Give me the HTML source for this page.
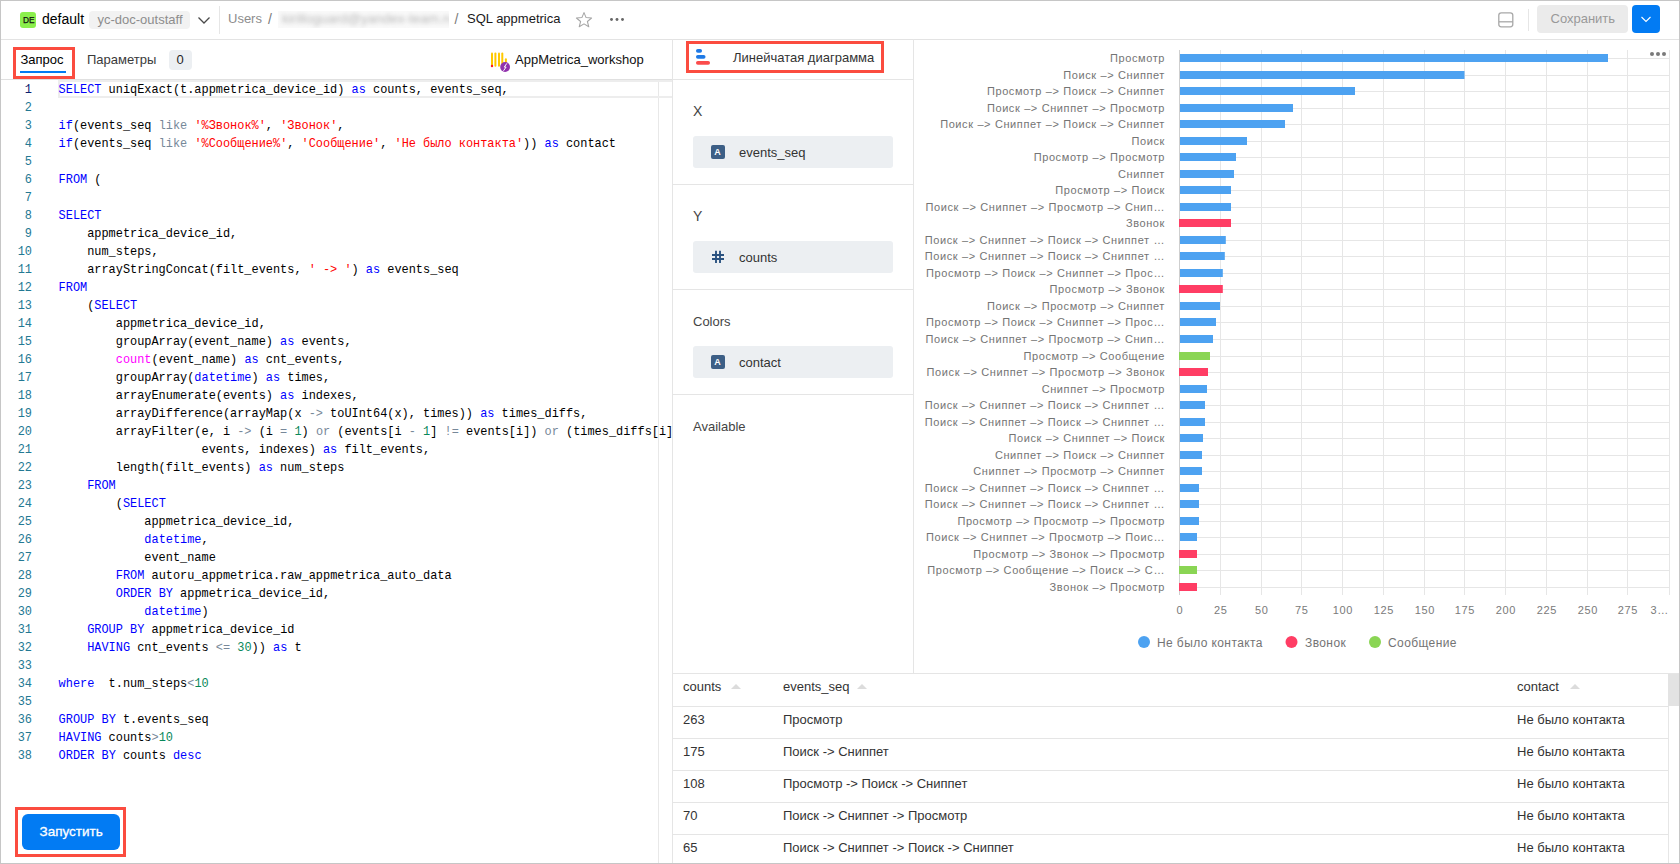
<!DOCTYPE html>
<html><head><meta charset="utf-8"><style>
*{box-sizing:border-box;margin:0;padding:0}
html,body{width:1680px;height:864px;overflow:hidden;background:#fff}
body{position:relative;font-family:"Liberation Sans",sans-serif;color:#000}
.a{position:absolute}
.t{position:absolute;white-space:pre;line-height:20px;height:20px}
.hl{position:absolute;height:1px;background:#e5e5e5}
.vl{position:absolute;width:1px;background:#e5e5e5}
.rb{position:absolute;border:3px solid #fb4c3f}
/* code */
.code{position:absolute;left:0;top:0;font-family:"Liberation Mono",monospace;font-size:11.92px}
.ln{position:absolute;width:32px;text-align:right;left:0;color:#237893;white-space:pre;line-height:18px;height:18px}
.cl{position:absolute;left:58.6px;white-space:pre;line-height:18px;height:18px;color:#000}
.cl2{font-size:11px;fill:#747474;letter-spacing:0.6px;word-spacing:0.1px}
.ax{font-size:11px;fill:#7a7a7a;letter-spacing:0.6px}
.lg{font-size:12px;fill:#747474;letter-spacing:0.4px;word-spacing:0px}
.k{color:#0000ff}.s{color:#ff0000}.o{color:#778899}.n{color:#09885a}.p{color:#ff00ff}
</style></head><body>
<!-- page border -->
<div class="a" style="left:0;top:0;width:1680px;height:864px;border:1px solid #c6c6c6;z-index:50;pointer-events:none"></div>

<!-- HEADER -->
<div class="hl" style="left:1px;top:39px;width:1678px;background:#e3e3e3"></div>
<div class="a" style="left:20px;top:12px;width:16px;height:16px;border-radius:3px;background:#8bef4c"></div>
<div class="t" style="left:23px;top:10px;font-size:8.3px;letter-spacing:0.1px;color:#111;-webkit-text-stroke:0.25px #111">DE</div>
<div class="t" style="left:42px;top:9px;font-size:14px;color:#000">default</div>
<div class="a" style="left:89px;top:11px;width:101px;height:18px;border-radius:4px;background:#f2f2f2"></div>
<div class="t" style="left:97.5px;top:9.5px;font-size:13px;color:#8d8d8d">yc-doc-outstaff</div>
<svg class="a" style="left:197px;top:15px" width="14" height="10"><path d="M1.5 2.5 L7 8 L12.5 2.5" fill="none" stroke="#4a4a4a" stroke-width="1.3"/></svg>
<div class="vl" style="left:219px;top:6px;height:28px;background:#e6e6e6"></div>
<div class="t" style="left:228px;top:9px;font-size:13px;color:#8d8d8d">Users</div>
<div class="t" style="left:268px;top:9px;font-size:14px;color:#7a7a7a">/</div>
<div class="a" style="left:278px;top:11px;width:171px;height:17px;background:#f9f9f9;overflow:hidden"><div class="t" style="left:4px;top:-2px;font-size:13.5px;color:#b8b8b8;filter:blur(2.2px)">kirilloguard@yandex-team.ru</div></div>
<div class="t" style="left:454.5px;top:9px;font-size:14px;color:#7a7a7a">/</div>
<div class="t" style="left:467px;top:9px;font-size:13px;color:#1a1a1a">SQL appmetrica</div>
<svg class="a" style="left:575px;top:11px" width="19" height="17"><path d="M9 1.6 L11.1 6.6 L16.6 7 L12.4 10.5 L13.8 15.8 L9 12.9 L4.2 15.8 L5.6 10.5 L1.4 7 L6.9 6.6 Z" fill="none" stroke="#a6a6a6" stroke-width="1.05" stroke-linejoin="round"/></svg>
<svg class="a" style="left:608px;top:16px" width="18" height="7"><circle cx="3.5" cy="3.5" r="1.45" fill="#666"/><circle cx="9" cy="3.5" r="1.45" fill="#666"/><circle cx="14.5" cy="3.5" r="1.45" fill="#666"/></svg>

<svg class="a" style="left:1497px;top:11px" width="18" height="18"><rect x="1.8" y="1.8" width="14" height="14" rx="2.5" fill="none" stroke="#a8a8a8" stroke-width="1.3"/><line x1="2" y1="10.8" x2="16" y2="10.8" stroke="#a8a8a8" stroke-width="1.3"/></svg>
<div class="vl" style="left:1528px;top:9px;height:22px;background:#e6e6e6"></div>
<div class="a" style="left:1537px;top:5px;width:91px;height:28px;border-radius:4px;background:#ebebeb"></div>
<div class="t" style="left:1550.5px;top:8.5px;font-size:13px;color:#999">Сохранить</div>
<div class="a" style="left:1632px;top:5px;width:28px;height:28px;border-radius:4px;background:#027bf3"></div>
<svg class="a" style="left:1640px;top:14px" width="12" height="10"><path d="M1.5 3 L6 7.5 L10.5 3" fill="none" stroke="#fff" stroke-width="1.1"/></svg>

<!-- LEFT PANEL -->
<div class="t" style="left:20.5px;top:50px;font-size:13px;color:#000">Запрос</div>
<div class="a" style="left:20px;top:71px;width:46px;height:2px;background:#027bf3"></div>
<div class="rb" style="left:13px;top:47px;width:62px;height:32px"></div>
<div class="t" style="left:87px;top:50px;font-size:13px;color:#3a3a3a">Параметры</div>
<div class="a" style="left:169px;top:50px;width:23px;height:20px;border-radius:4px;background:#eceff2"></div>
<div class="t" style="left:176.5px;top:50px;font-size:13px;color:#262626">0</div>
<svg class="a" style="left:489px;top:51px" width="24" height="22">
<rect x="2" y="1.5" width="2" height="14.3" rx="1" fill="#ffc800"/><rect x="5.4" y="1.5" width="2" height="14.3" rx="1" fill="#ffc800"/><rect x="9" y="1.5" width="2" height="14.3" rx="1" fill="#ffc800"/><rect x="12.3" y="1.5" width="2" height="14.3" rx="1" fill="#ffc800"/><rect x="15.9" y="7.2" width="2" height="5" rx="1" fill="#ffc800"/>
<circle cx="3" cy="15" r="1.2" fill="#ff1a1a"/>
<circle cx="16.1" cy="16" r="4.9" fill="#9132ad"/><path d="M17.8 12.4 L15.3 16.1 L17.1 16 L14.5 19.8" fill="none" stroke="#fff" stroke-width="1"/>
</svg>
<div class="t" style="left:515px;top:50px;font-size:13px;color:#111">AppMetrica_workshop</div>

<div class="hl" style="left:1px;top:79px;width:671px;background:#e0e0e0"></div>
<div class="vl" style="left:672px;top:39px;height:825px"></div>
<div class="vl" style="left:658px;top:80px;height:784px;background:#e8e8e8"></div>
<div class="a" style="left:58px;top:80px;width:614px;height:18px;border:2px solid #ededed;border-right:none"></div>

<div id="code"><div class="code">
<div class="ln" style="top:81.0px;color:#0b216f">1</div><div class="cl" style="top:81.0px"><span class="k">SELECT</span> uniqExact(t.appmetrica_device_id) <span class="k">as</span> counts, events_seq,</div>
<div class="ln" style="top:99.0px;color:#237893">2</div><div class="cl" style="top:99.0px"></div>
<div class="ln" style="top:117.0px;color:#237893">3</div><div class="cl" style="top:117.0px"><span class="k">if</span>(events_seq <span class="o">like</span> <span class="s">'%Звонок%'</span>, <span class="s">'Звонок'</span>,</div>
<div class="ln" style="top:135.0px;color:#237893">4</div><div class="cl" style="top:135.0px"><span class="k">if</span>(events_seq <span class="o">like</span> <span class="s">'%Сообщение%'</span>, <span class="s">'Сообщение'</span>, <span class="s">'Не было контакта'</span>)) <span class="k">as</span> contact</div>
<div class="ln" style="top:153.0px;color:#237893">5</div><div class="cl" style="top:153.0px"></div>
<div class="ln" style="top:171.0px;color:#237893">6</div><div class="cl" style="top:171.0px"><span class="k">FROM</span> (</div>
<div class="ln" style="top:189.0px;color:#237893">7</div><div class="cl" style="top:189.0px"></div>
<div class="ln" style="top:207.0px;color:#237893">8</div><div class="cl" style="top:207.0px"><span class="k">SELECT</span></div>
<div class="ln" style="top:225.0px;color:#237893">9</div><div class="cl" style="top:225.0px">    appmetrica_device_id,</div>
<div class="ln" style="top:243.0px;color:#237893">10</div><div class="cl" style="top:243.0px">    num_steps,</div>
<div class="ln" style="top:261.0px;color:#237893">11</div><div class="cl" style="top:261.0px">    arrayStringConcat(filt_events, <span class="s">' -&gt; '</span>) <span class="k">as</span> events_seq</div>
<div class="ln" style="top:279.0px;color:#237893">12</div><div class="cl" style="top:279.0px"><span class="k">FROM</span></div>
<div class="ln" style="top:297.0px;color:#237893">13</div><div class="cl" style="top:297.0px">    (<span class="k">SELECT</span></div>
<div class="ln" style="top:315.0px;color:#237893">14</div><div class="cl" style="top:315.0px">        appmetrica_device_id,</div>
<div class="ln" style="top:333.0px;color:#237893">15</div><div class="cl" style="top:333.0px">        groupArray(event_name) <span class="k">as</span> events,</div>
<div class="ln" style="top:351.0px;color:#237893">16</div><div class="cl" style="top:351.0px">        <span class="p">count</span>(event_name) <span class="k">as</span> cnt_events,</div>
<div class="ln" style="top:369.0px;color:#237893">17</div><div class="cl" style="top:369.0px">        groupArray(<span class="k">datetime</span>) <span class="k">as</span> times,</div>
<div class="ln" style="top:387.0px;color:#237893">18</div><div class="cl" style="top:387.0px">        arrayEnumerate(events) <span class="k">as</span> indexes,</div>
<div class="ln" style="top:405.0px;color:#237893">19</div><div class="cl" style="top:405.0px">        arrayDifference(arrayMap(x <span class="o">-&gt;</span> toUInt64(x), times)) <span class="k">as</span> times_diffs,</div>
<div class="ln" style="top:423.0px;color:#237893">20</div><div class="cl" style="top:423.0px">        arrayFilter(e, i <span class="o">-&gt;</span> (i <span class="o">=</span> <span class="n">1</span>) <span class="o">or</span> (events[i <span class="o">-</span> <span class="n">1</span>] <span class="o">!=</span> events[i]) <span class="o">or</span> (times_diffs[i]</div>
<div class="ln" style="top:441.0px;color:#237893">21</div><div class="cl" style="top:441.0px">                    events, indexes) <span class="k">as</span> filt_events,</div>
<div class="ln" style="top:459.0px;color:#237893">22</div><div class="cl" style="top:459.0px">        length(filt_events) <span class="k">as</span> num_steps</div>
<div class="ln" style="top:477.0px;color:#237893">23</div><div class="cl" style="top:477.0px">    <span class="k">FROM</span></div>
<div class="ln" style="top:495.0px;color:#237893">24</div><div class="cl" style="top:495.0px">        (<span class="k">SELECT</span></div>
<div class="ln" style="top:513.0px;color:#237893">25</div><div class="cl" style="top:513.0px">            appmetrica_device_id,</div>
<div class="ln" style="top:531.0px;color:#237893">26</div><div class="cl" style="top:531.0px">            <span class="k">datetime</span>,</div>
<div class="ln" style="top:549.0px;color:#237893">27</div><div class="cl" style="top:549.0px">            event_name</div>
<div class="ln" style="top:567.0px;color:#237893">28</div><div class="cl" style="top:567.0px">        <span class="k">FROM</span> autoru_appmetrica.raw_appmetrica_auto_data</div>
<div class="ln" style="top:585.0px;color:#237893">29</div><div class="cl" style="top:585.0px">        <span class="k">ORDER</span> <span class="k">BY</span> appmetrica_device_id,</div>
<div class="ln" style="top:603.0px;color:#237893">30</div><div class="cl" style="top:603.0px">            <span class="k">datetime</span>)</div>
<div class="ln" style="top:621.0px;color:#237893">31</div><div class="cl" style="top:621.0px">    <span class="k">GROUP</span> <span class="k">BY</span> appmetrica_device_id</div>
<div class="ln" style="top:639.0px;color:#237893">32</div><div class="cl" style="top:639.0px">    <span class="k">HAVING</span> cnt_events <span class="o">&lt;=</span> <span class="n">30</span>)) <span class="k">as</span> t</div>
<div class="ln" style="top:657.0px;color:#237893">33</div><div class="cl" style="top:657.0px"></div>
<div class="ln" style="top:675.0px;color:#237893">34</div><div class="cl" style="top:675.0px"><span class="k">where</span>  t.num_steps<span class="o">&lt;</span><span class="n">10</span></div>
<div class="ln" style="top:693.0px;color:#237893">35</div><div class="cl" style="top:693.0px"></div>
<div class="ln" style="top:711.0px;color:#237893">36</div><div class="cl" style="top:711.0px"><span class="k">GROUP</span> <span class="k">BY</span> t.events_seq</div>
<div class="ln" style="top:729.0px;color:#237893">37</div><div class="cl" style="top:729.0px"><span class="k">HAVING</span> counts<span class="o">&gt;</span><span class="n">10</span></div>
<div class="ln" style="top:747.0px;color:#237893">38</div><div class="cl" style="top:747.0px"><span class="k">ORDER</span> <span class="k">BY</span> counts <span class="k">desc</span></div>
</div></div><!--/code-->

<!-- MIDDLE PANEL -->
<div class="hl" style="left:673px;top:79px;width:240px"></div>
<div class="vl" style="left:913px;top:39px;height:634px"></div>
<div class="rb" style="left:686px;top:41px;width:198px;height:32px"></div>
<svg class="a" style="left:694px;top:47px" width="20" height="20">
<rect x="2" y="2" width="6" height="3.7" rx="1.8" fill="#1f7ae6"/>
<rect x="2" y="8" width="9.5" height="3.7" rx="1.8" fill="#1f7ae6"/>
<rect x="2" y="14" width="14" height="3.7" rx="1.8" fill="#fb4c4c"/>
</svg>
<div class="t" style="left:733px;top:48px;font-size:13px;color:#333">Линейчатая диаграмма</div>

<div class="hl" style="left:673px;top:184px;width:240px"></div>
<div class="hl" style="left:673px;top:289px;width:240px"></div>
<div class="hl" style="left:673px;top:394px;width:240px"></div>
<div class="t" style="left:693px;top:101px;font-size:14px;color:#444">X</div>
<div class="t" style="left:693px;top:206px;font-size:14px;color:#444">Y</div>
<div class="t" style="left:693px;top:312px;font-size:13px;color:#444">Colors</div>
<div class="t" style="left:693px;top:416.5px;font-size:13px;color:#444">Available</div>
<div class="a" style="left:693px;top:136px;width:200px;height:32px;border-radius:3px;background:#eceff2"></div>
<div class="a" style="left:693px;top:241px;width:200px;height:32px;border-radius:3px;background:#eceff2"></div>
<div class="a" style="left:693px;top:346px;width:200px;height:32px;border-radius:3px;background:#eceff2"></div>
<div class="a" style="left:711px;top:145px;width:14px;height:14px;border-radius:2px;background:#3d5f86"></div>
<div class="t" style="left:714.2px;top:141.5px;font-size:9px;font-weight:bold;color:#fff">A</div>
<div class="a" style="left:711px;top:355px;width:14px;height:14px;border-radius:2px;background:#3d5f86"></div>
<div class="t" style="left:714.2px;top:351.5px;font-size:9px;font-weight:bold;color:#fff">A</div>
<svg class="a" style="left:710px;top:249px" width="16" height="16"><path d="M6 1.8 L6 14 M10 1.8 L10 14 M2 6 L14 6 M2 10 L14 10" stroke="#2a5280" stroke-width="1.9" fill="none"/></svg>
<div class="t" style="left:739px;top:143px;font-size:13px;color:#333">events_seq</div>
<div class="t" style="left:739px;top:248px;font-size:13px;color:#333">counts</div>
<div class="t" style="left:739px;top:353px;font-size:13px;color:#333">contact</div>

<!-- CHART -->
<!--chart--><svg class="a" style="left:913px;top:39px" width="766" height="634" viewBox="913 39 766 634">
<line x1="1179.5" y1="50" x2="1179.5" y2="595" stroke="#e6e6e6" stroke-width="1"/>
<line x1="1220.5" y1="50" x2="1220.5" y2="595" stroke="#e6e6e6" stroke-width="1"/>
<line x1="1261.5" y1="50" x2="1261.5" y2="595" stroke="#e6e6e6" stroke-width="1"/>
<line x1="1301.5" y1="50" x2="1301.5" y2="595" stroke="#e6e6e6" stroke-width="1"/>
<line x1="1342.5" y1="50" x2="1342.5" y2="595" stroke="#e6e6e6" stroke-width="1"/>
<line x1="1383.5" y1="50" x2="1383.5" y2="595" stroke="#e6e6e6" stroke-width="1"/>
<line x1="1424.5" y1="50" x2="1424.5" y2="595" stroke="#e6e6e6" stroke-width="1"/>
<line x1="1464.5" y1="50" x2="1464.5" y2="595" stroke="#e6e6e6" stroke-width="1"/>
<line x1="1505.5" y1="50" x2="1505.5" y2="595" stroke="#e6e6e6" stroke-width="1"/>
<line x1="1546.5" y1="50" x2="1546.5" y2="595" stroke="#e6e6e6" stroke-width="1"/>
<line x1="1587.5" y1="50" x2="1587.5" y2="595" stroke="#e6e6e6" stroke-width="1"/>
<line x1="1627.5" y1="50" x2="1627.5" y2="595" stroke="#e6e6e6" stroke-width="1"/>
<line x1="1669.5" y1="50" x2="1669.5" y2="595" stroke="#e6e6e6" stroke-width="1"/>
<line x1="1180" y1="58.5" x2="1670" y2="58.5" stroke="#e6e6e6" stroke-width="1"/>
<line x1="1180" y1="75.5" x2="1670" y2="75.5" stroke="#e6e6e6" stroke-width="1"/>
<line x1="1180" y1="91.5" x2="1670" y2="91.5" stroke="#e6e6e6" stroke-width="1"/>
<line x1="1180" y1="108.5" x2="1670" y2="108.5" stroke="#e6e6e6" stroke-width="1"/>
<line x1="1180" y1="124.5" x2="1670" y2="124.5" stroke="#e6e6e6" stroke-width="1"/>
<line x1="1180" y1="141.5" x2="1670" y2="141.5" stroke="#e6e6e6" stroke-width="1"/>
<line x1="1180" y1="157.5" x2="1670" y2="157.5" stroke="#e6e6e6" stroke-width="1"/>
<line x1="1180" y1="174.5" x2="1670" y2="174.5" stroke="#e6e6e6" stroke-width="1"/>
<line x1="1180" y1="190.5" x2="1670" y2="190.5" stroke="#e6e6e6" stroke-width="1"/>
<line x1="1180" y1="207.5" x2="1670" y2="207.5" stroke="#e6e6e6" stroke-width="1"/>
<line x1="1180" y1="223.5" x2="1670" y2="223.5" stroke="#e6e6e6" stroke-width="1"/>
<line x1="1180" y1="240.5" x2="1670" y2="240.5" stroke="#e6e6e6" stroke-width="1"/>
<line x1="1180" y1="256.5" x2="1670" y2="256.5" stroke="#e6e6e6" stroke-width="1"/>
<line x1="1180" y1="273.5" x2="1670" y2="273.5" stroke="#e6e6e6" stroke-width="1"/>
<line x1="1180" y1="289.5" x2="1670" y2="289.5" stroke="#e6e6e6" stroke-width="1"/>
<line x1="1180" y1="306.5" x2="1670" y2="306.5" stroke="#e6e6e6" stroke-width="1"/>
<line x1="1180" y1="322.5" x2="1670" y2="322.5" stroke="#e6e6e6" stroke-width="1"/>
<line x1="1180" y1="339.5" x2="1670" y2="339.5" stroke="#e6e6e6" stroke-width="1"/>
<line x1="1180" y1="356.5" x2="1670" y2="356.5" stroke="#e6e6e6" stroke-width="1"/>
<line x1="1180" y1="372.5" x2="1670" y2="372.5" stroke="#e6e6e6" stroke-width="1"/>
<line x1="1180" y1="389.5" x2="1670" y2="389.5" stroke="#e6e6e6" stroke-width="1"/>
<line x1="1180" y1="405.5" x2="1670" y2="405.5" stroke="#e6e6e6" stroke-width="1"/>
<line x1="1180" y1="422.5" x2="1670" y2="422.5" stroke="#e6e6e6" stroke-width="1"/>
<line x1="1180" y1="438.5" x2="1670" y2="438.5" stroke="#e6e6e6" stroke-width="1"/>
<line x1="1180" y1="455.5" x2="1670" y2="455.5" stroke="#e6e6e6" stroke-width="1"/>
<line x1="1180" y1="471.5" x2="1670" y2="471.5" stroke="#e6e6e6" stroke-width="1"/>
<line x1="1180" y1="488.5" x2="1670" y2="488.5" stroke="#e6e6e6" stroke-width="1"/>
<line x1="1180" y1="504.5" x2="1670" y2="504.5" stroke="#e6e6e6" stroke-width="1"/>
<line x1="1180" y1="521.5" x2="1670" y2="521.5" stroke="#e6e6e6" stroke-width="1"/>
<line x1="1180" y1="537.5" x2="1670" y2="537.5" stroke="#e6e6e6" stroke-width="1"/>
<line x1="1180" y1="554.5" x2="1670" y2="554.5" stroke="#e6e6e6" stroke-width="1"/>
<line x1="1180" y1="570.5" x2="1670" y2="570.5" stroke="#e6e6e6" stroke-width="1"/>
<line x1="1180" y1="587.5" x2="1670" y2="587.5" stroke="#e6e6e6" stroke-width="1"/>
<line x1="1179.5" y1="50" x2="1179.5" y2="595" stroke="#cfcfcf" stroke-width="1"/>
<rect x="1180" y="54" width="428" height="8" fill="#4da2f1"/>
<text x="1165" y="62" text-anchor="end" class="cl2">Просмотр</text>
<rect x="1180" y="71" width="284.5" height="8" fill="#4da2f1"/>
<text x="1165" y="79" text-anchor="end" class="cl2">Поиск –> Сниппет</text>
<rect x="1180" y="87" width="175" height="8" fill="#4da2f1"/>
<text x="1165" y="95" text-anchor="end" class="cl2">Просмотр –> Поиск –> Сниппет</text>
<rect x="1180" y="104" width="113" height="8" fill="#4da2f1"/>
<text x="1165" y="112" text-anchor="end" class="cl2">Поиск –> Сниппет –> Просмотр</text>
<rect x="1180" y="120" width="105" height="8" fill="#4da2f1"/>
<text x="1165" y="128" text-anchor="end" class="cl2">Поиск –> Сниппет –> Поиск –> Сниппет</text>
<rect x="1180" y="137" width="67" height="8" fill="#4da2f1"/>
<text x="1165" y="145" text-anchor="end" class="cl2">Поиск</text>
<rect x="1180" y="153" width="56" height="8" fill="#4da2f1"/>
<text x="1165" y="161" text-anchor="end" class="cl2">Просмотр –> Просмотр</text>
<rect x="1180" y="170" width="54" height="8" fill="#4da2f1"/>
<text x="1165" y="178" text-anchor="end" class="cl2">Сниппет</text>
<rect x="1180" y="186" width="51" height="8" fill="#4da2f1"/>
<text x="1165" y="194" text-anchor="end" class="cl2">Просмотр –> Поиск</text>
<rect x="1180" y="203" width="51" height="8" fill="#4da2f1"/>
<text x="1165" y="211" text-anchor="end" class="cl2">Поиск –> Сниппет –> Просмотр –> Снип…</text>
<rect x="1179" y="219" width="52" height="8" fill="#ff3d64"/>
<text x="1165" y="227" text-anchor="end" class="cl2">Звонок</text>
<rect x="1180" y="236" width="45.799999999999955" height="8" fill="#4da2f1"/>
<text x="1165" y="244" text-anchor="end" class="cl2">Поиск –> Сниппет –> Поиск –> Сниппет …</text>
<rect x="1180" y="252" width="44.799999999999955" height="8" fill="#4da2f1"/>
<text x="1165" y="260" text-anchor="end" class="cl2">Поиск –> Сниппет –> Поиск –> Сниппет …</text>
<rect x="1180" y="269" width="42.799999999999955" height="8" fill="#4da2f1"/>
<text x="1165" y="277" text-anchor="end" class="cl2">Просмотр –> Поиск –> Сниппет –> Прос…</text>
<rect x="1179" y="285" width="43.799999999999955" height="8" fill="#ff3d64"/>
<text x="1165" y="293" text-anchor="end" class="cl2">Просмотр –> Звонок</text>
<rect x="1180" y="302" width="40" height="8" fill="#4da2f1"/>
<text x="1165" y="310" text-anchor="end" class="cl2">Поиск –> Просмотр –> Сниппет</text>
<rect x="1180" y="318" width="36" height="8" fill="#4da2f1"/>
<text x="1165" y="326" text-anchor="end" class="cl2">Просмотр –> Поиск –> Сниппет –> Прос…</text>
<rect x="1180" y="335" width="33" height="8" fill="#4da2f1"/>
<text x="1165" y="343" text-anchor="end" class="cl2">Поиск –> Сниппет –> Просмотр –> Снип…</text>
<rect x="1179" y="352" width="31" height="8" fill="#8ad554"/>
<text x="1165" y="360" text-anchor="end" class="cl2">Просмотр –> Сообщение</text>
<rect x="1179" y="368" width="29" height="8" fill="#ff3d64"/>
<text x="1165" y="376" text-anchor="end" class="cl2">Поиск –> Сниппет –> Просмотр –> Звонок</text>
<rect x="1180" y="385" width="27" height="8" fill="#4da2f1"/>
<text x="1165" y="393" text-anchor="end" class="cl2">Сниппет –> Просмотр</text>
<rect x="1180" y="401" width="25" height="8" fill="#4da2f1"/>
<text x="1165" y="409" text-anchor="end" class="cl2">Поиск –> Сниппет –> Поиск –> Сниппет …</text>
<rect x="1180" y="418" width="25" height="8" fill="#4da2f1"/>
<text x="1165" y="426" text-anchor="end" class="cl2">Поиск –> Сниппет –> Поиск –> Сниппет …</text>
<rect x="1180" y="434" width="23" height="8" fill="#4da2f1"/>
<text x="1165" y="442" text-anchor="end" class="cl2">Поиск –> Сниппет –> Поиск</text>
<rect x="1180" y="451" width="22" height="8" fill="#4da2f1"/>
<text x="1165" y="459" text-anchor="end" class="cl2">Сниппет –> Поиск –> Сниппет</text>
<rect x="1180" y="467" width="22" height="8" fill="#4da2f1"/>
<text x="1165" y="475" text-anchor="end" class="cl2">Сниппет –> Просмотр –> Сниппет</text>
<rect x="1180" y="484" width="19" height="8" fill="#4da2f1"/>
<text x="1165" y="492" text-anchor="end" class="cl2">Поиск –> Сниппет –> Поиск –> Сниппет …</text>
<rect x="1180" y="500" width="19" height="8" fill="#4da2f1"/>
<text x="1165" y="508" text-anchor="end" class="cl2">Поиск –> Сниппет –> Поиск –> Сниппет …</text>
<rect x="1180" y="517" width="19" height="8" fill="#4da2f1"/>
<text x="1165" y="525" text-anchor="end" class="cl2">Просмотр –> Просмотр –> Просмотр</text>
<rect x="1180" y="533" width="17" height="8" fill="#4da2f1"/>
<text x="1165" y="541" text-anchor="end" class="cl2">Поиск –> Сниппет –> Просмотр –> Поис…</text>
<rect x="1179" y="550" width="18" height="8" fill="#ff3d64"/>
<text x="1165" y="558" text-anchor="end" class="cl2">Просмотр –> Звонок –> Просмотр</text>
<rect x="1179" y="566" width="18" height="8" fill="#8ad554"/>
<text x="1165" y="574" text-anchor="end" class="cl2">Просмотр –> Сообщение –> Поиск –> С…</text>
<rect x="1179" y="583" width="18" height="8" fill="#ff3d64"/>
<text x="1165" y="591" text-anchor="end" class="cl2">Звонок –> Просмотр</text>
<text x="1179.8" y="614" text-anchor="middle" class="ax">0</text>
<text x="1220.8" y="614" text-anchor="middle" class="ax">25</text>
<text x="1261.8" y="614" text-anchor="middle" class="ax">50</text>
<text x="1301.8" y="614" text-anchor="middle" class="ax">75</text>
<text x="1342.8" y="614" text-anchor="middle" class="ax">100</text>
<text x="1383.8" y="614" text-anchor="middle" class="ax">125</text>
<text x="1424.8" y="614" text-anchor="middle" class="ax">150</text>
<text x="1464.8" y="614" text-anchor="middle" class="ax">175</text>
<text x="1505.8" y="614" text-anchor="middle" class="ax">200</text>
<text x="1546.8" y="614" text-anchor="middle" class="ax">225</text>
<text x="1587.8" y="614" text-anchor="middle" class="ax">250</text>
<text x="1627.8" y="614" text-anchor="middle" class="ax">275</text>
<text x="1650.5" y="614" class="ax">3…</text>
<circle cx="1144" cy="642" r="6" fill="#4da2f1"/>
<text x="1157" y="647" class="lg">Не было контакта</text>
<circle cx="1291.5" cy="642" r="6" fill="#ff3d64"/>
<text x="1305" y="647" class="lg">Звонок</text>
<circle cx="1375" cy="642" r="6" fill="#8ad554"/>
<text x="1388" y="647" class="lg">Сообщение</text>
<circle cx="1652" cy="54" r="2" fill="#7a7a7a"/>
<circle cx="1658" cy="54" r="2" fill="#7a7a7a"/>
<circle cx="1664" cy="54" r="2" fill="#7a7a7a"/>
</svg><!--/chart-->

<!-- TABLE -->
<div class="hl" style="left:673px;top:673px;width:1006px"></div>
<div class="hl" style="left:673px;top:706px;width:995px"></div>
<div class="hl" style="left:673px;top:738px;width:995px"></div>
<div class="hl" style="left:673px;top:770px;width:995px"></div>
<div class="hl" style="left:673px;top:802px;width:995px"></div>
<div class="hl" style="left:673px;top:834px;width:995px"></div>
<div class="a" style="left:1668px;top:674px;width:11px;height:32px;background:#e3e3e3"></div>
<div class="vl" style="left:1668px;top:706px;height:158px;background:#e6e6e6"></div>
<div class="t" style="left:683px;top:677px;font-size:13px;color:#333">counts</div>
<div class="t" style="left:783px;top:677px;font-size:13px;color:#333">events_seq</div>
<div class="t" style="left:1517px;top:677px;font-size:13px;color:#333">contact</div>
<svg class="a" style="left:731px;top:684px" width="10" height="5"><path d="M0 5 L5 0 L10 5 Z" fill="#dcdcdc"/></svg>
<svg class="a" style="left:857px;top:684px" width="10" height="5"><path d="M0 5 L5 0 L10 5 Z" fill="#dcdcdc"/></svg>
<svg class="a" style="left:1570px;top:684px" width="10" height="5"><path d="M0 5 L5 0 L10 5 Z" fill="#dcdcdc"/></svg>
<div id="rows">
<div class="t" style="left:683px;top:709.5px;font-size:13px;color:#333">263</div><div class="t" style="left:783px;top:709.5px;font-size:13px;color:#333">Просмотр</div><div class="t" style="left:1517px;top:709.5px;font-size:13px;color:#333">Не было контакта</div>
<div class="t" style="left:683px;top:741.5px;font-size:13px;color:#333">175</div><div class="t" style="left:783px;top:741.5px;font-size:13px;color:#333">Поиск -&gt; Сниппет</div><div class="t" style="left:1517px;top:741.5px;font-size:13px;color:#333">Не было контакта</div>
<div class="t" style="left:683px;top:773.5px;font-size:13px;color:#333">108</div><div class="t" style="left:783px;top:773.5px;font-size:13px;color:#333">Просмотр -&gt; Поиск -&gt; Сниппет</div><div class="t" style="left:1517px;top:773.5px;font-size:13px;color:#333">Не было контакта</div>
<div class="t" style="left:683px;top:805.5px;font-size:13px;color:#333">70</div><div class="t" style="left:783px;top:805.5px;font-size:13px;color:#333">Поиск -&gt; Сниппет -&gt; Просмотр</div><div class="t" style="left:1517px;top:805.5px;font-size:13px;color:#333">Не было контакта</div>
<div class="t" style="left:683px;top:837.5px;font-size:13px;color:#333">65</div><div class="t" style="left:783px;top:837.5px;font-size:13px;color:#333">Поиск -&gt; Сниппет -&gt; Поиск -&gt; Сниппет</div><div class="t" style="left:1517px;top:837.5px;font-size:13px;color:#333">Не было контакта</div>
</div>

<div class="rb" style="left:15px;top:807px;width:111px;height:50px"></div>
<div class="a" style="left:22px;top:814px;width:98px;height:36px;border-radius:6px;background:#027bf3"></div>
<div class="t" style="left:39.5px;top:821.5px;font-size:13.5px;color:#fff;-webkit-text-stroke:0.3px #fff">Запустить</div>

</body></html>
